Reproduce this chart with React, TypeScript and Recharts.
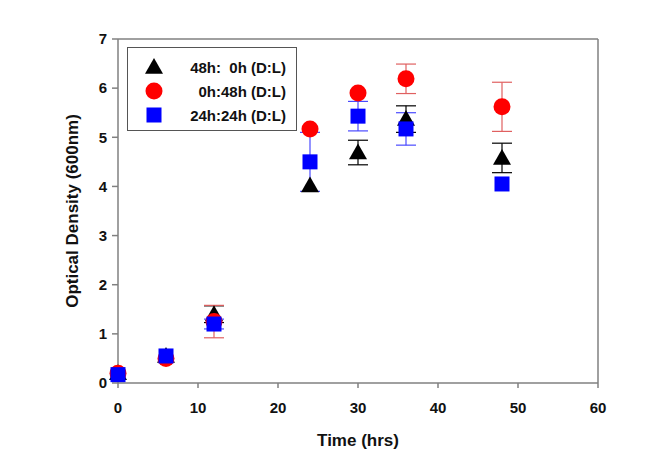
import {
  ScatterChart,
  Scatter,
  XAxis,
  YAxis,
  ErrorBar,
  ReferenceLine,
  Label,
} from "recharts";

// sampling times (hrs)
const times = [0, 6, 12, 24, 30, 36, 48];

// 48h:0h (D:L)
const darkFirst = [0.2, 0.55, 1.4, 4.02, 4.69, 5.37, 4.58];
const darkFirstErr = [0, 0, 0.17, 0, 0.25, 0.27, 0.3];

// 0h:48h (D:L)
const lightFirst = [0.2, 0.5, 1.25, 5.17, 5.9, 6.19, 5.62];
const lightFirstErr = [0, 0, 0.33, 0, 0, 0.3, 0.5];

// 24h:24h (D:L)
const equal = [0.17, 0.55, 1.2, 4.5, 5.43, 5.17, 4.05];
const equalErr = [0, 0, 0.1, 0.6, 0.3, 0.33, 0];

const xTicks = [0, 10, 20, 30, 40, 50, 60];
const yTicks = [0, 1, 2, 3, 4, 5, 6, 7];

const build = (vals: number[], errs: number[]) =>
  times.map((t, i) => ({ x: t, y: vals[i], err: errs[i] }));

const series = [
  { name: "48h:  0h (D:L)", color: "#000000", err: "#000000", shape: "triangle", data: build(darkFirst, darkFirstErr) },
  { name: "0h:48h (D:L)", color: "#ff0000", err: "#e06060", shape: "circle", data: build(lightFirst, lightFirstErr) },
  { name: "24h:24h (D:L)", color: "#0000ff", err: "#4a4aff", shape: "square", data: build(equal, equalErr) },
];

const axisColor = "#808080";
const font = "'Liberation Sans', Arial, sans-serif";

function Marker({ kind, cx, cy, fill }: { kind: string; cx: number; cy: number; fill: string }) {
  if (kind === "triangle") {
    const s = 9;
    return <polygon points={`${cx},${cy - s} ${cx + s},${cy + s * 0.75} ${cx - s},${cy + s * 0.75}`} fill={fill} />;
  }
  if (kind === "square") {
    return <rect x={cx - 7.5} y={cy - 7.5} width={15} height={15} fill={fill} />;
  }
  return <circle cx={cx} cy={cy} r={8.5} fill={fill} />;
}

function LegendBox() {
  return (
    <div
      style={{
        position: "absolute",
        left: 127,
        top: 47,
        border: "1px solid #555",
        width: 170,
        height: 84,
        boxSizing: "border-box",
        background: "#fff",
        padding: "7px 10px 0 14px",
        fontFamily: font,
        fontWeight: "bold",
        fontSize: 15,
        color: "#111",
      }}
    >
      {series.map((s) => (
        <div key={s.name} style={{ display: "flex", alignItems: "center", height: 24 }}>
          <svg width={24} height={20}>
            <Marker kind={s.shape} cx={12} cy={10} fill={s.color} />
          </svg>
          <span style={{ flex: 1, textAlign: "right", whiteSpace: "pre" }}>{s.name}</span>
        </div>
      ))}
    </div>
  );
}

export default function App() {
  return (
    <div style={{ position: "fixed", left: 0, top: 0, width: 661, height: 472, background: "#fff" }}>
      <ScatterChart
        width={661}
        height={472}
        margin={{ top: 39, right: 63, bottom: 0, left: 0 }}
      >
        <XAxis
          type="number"
          dataKey="x"
          domain={[0, 60]}
          ticks={xTicks}
          stroke={axisColor}
          strokeWidth={1.5}
          tickSize={5}
          tickMargin={14}
          height={89}
          tick={{ fill: "#111", fontSize: 15, fontWeight: "bold", fontFamily: font }}
        >
          <Label
            value="Time (hrs)"
            position="insideBottom"
            offset={26}
            style={{ fill: "#111", fontSize: 17, fontWeight: "bold", fontFamily: font }}
          />
        </XAxis>
        <YAxis
          type="number"
          dataKey="y"
          domain={[0, 7]}
          ticks={yTicks}
          stroke={axisColor}
          strokeWidth={1.5}
          tickSize={6}
          tickMargin={5}
          width={118}
          tick={{ fill: "#111", fontSize: 15, fontWeight: "bold", fontFamily: font }}
        >
          <Label
            content={(props: any) => {
              const vb = props.viewBox || { x: 0, y: 39, width: 118, height: 344 };
              const x = vb.x + 72;
              const y = vb.y + vb.height / 2;
              return (
                <text
                  x={x}
                  y={y}
                  transform={`rotate(-90 ${x} ${y})`}
                  textAnchor="middle"
                  dominantBaseline="central"
                  style={{ fill: "#111", fontSize: 17, fontWeight: "bold", fontFamily: font }}
                >
                  Optical Density (600nm)
                </text>
              );
            }}
          />
        </YAxis>
        <ReferenceLine y={7} stroke={axisColor} strokeWidth={1.5} />
        <ReferenceLine x={60} stroke={axisColor} strokeWidth={1.5} />
        {series.map((s) => (
          <Scatter
            key={s.name}
            name={s.name}
            data={s.data}
            fill={s.color}
            isAnimationActive={false}
            shape={(p: any) => <Marker kind={s.shape} cx={p.cx} cy={p.cy} fill={s.color} />}
          >
            <ErrorBar dataKey="err" direction="y" width={10} stroke={s.err} strokeWidth={1.2} />
          </Scatter>
        ))}
      </ScatterChart>
      <LegendBox />
    </div>
  );
}
